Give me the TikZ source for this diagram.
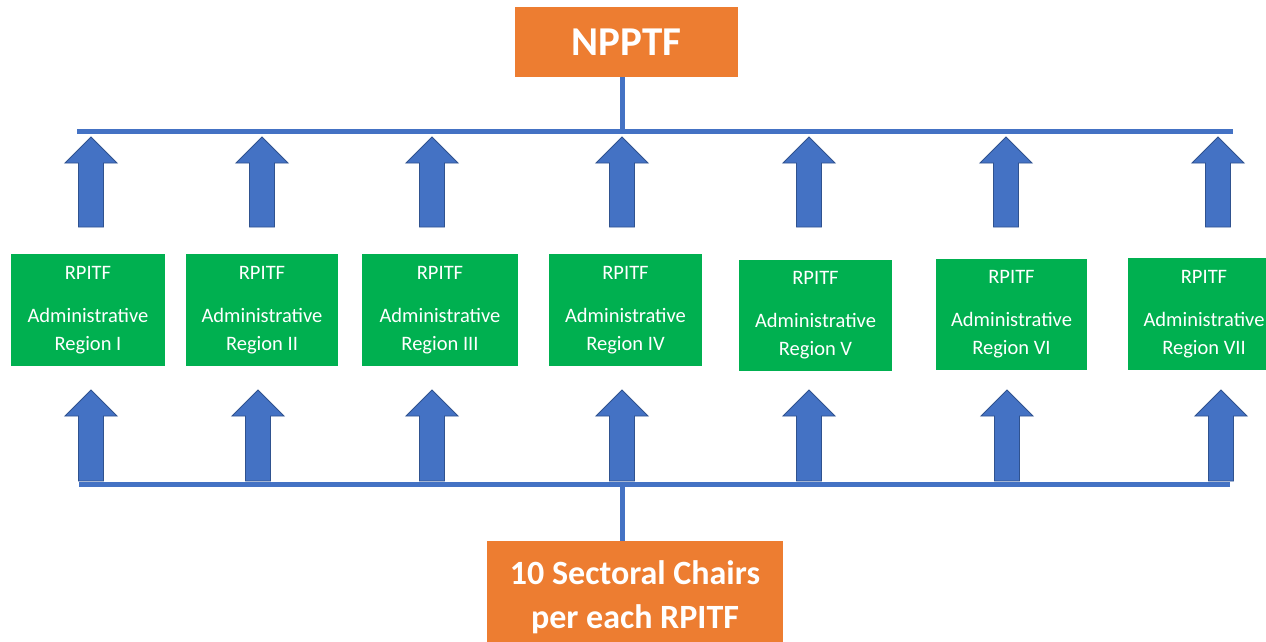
\documentclass[tikz,border=0pt]{standalone}
\usepackage{fontspec}
\setmainfont{Carlito}
\usepackage{tikz}

\definecolor{boxorange}{HTML}{ED7D31}
\definecolor{boxgreen}{HTML}{00B050}
\definecolor{busblue}{HTML}{4472C4}
\definecolor{edgeblue}{HTML}{2F528F}

\tikzset{
  headbox/.style={fill=boxorange, text=white, font=\bfseries, align=center, inner sep=0pt},
  regionbox/.style={fill=boxgreen, text=white, align=center, inner sep=0pt,
    font=\fontsize{20.5}{28}\selectfont},
  busline/.style={busblue, line width=5pt},
  blockarrow/.style={fill=busblue, draw=edgeblue, line width=0.9pt, line join=miter}
}

% block arrow: centre x, tip y, foot y
\newcommand{\uparr}[3]{%
  \filldraw[blockarrow] (#1-12.5,#3) -- (#1-12.5,#2+26) -- (#1-26,#2+26) -- (#1,#2)
    -- (#1+26,#2+26) -- (#1+12.5,#2+26) -- (#1+12.5,#3) -- cycle;}

\begin{document}
\begin{tikzpicture}[x=1pt, y=-1pt]
\useasboundingbox (0,0) rectangle (1266,642);
\begin{scope}

% top and bottom boxes
\node[headbox, minimum width=223, minimum height=70, font=\fontsize{41}{44}\bfseries] (npptf) at (626.5,42) {NPPTF};
\node[headbox, minimum width=296, minimum height=112, font=\fontsize{34}{44}\bfseries] (chairs) at (635,597) {10 Sectoral Chairs\\per each RPITF};

% bus lines
\coordinate (topL) at (77,131);
\coordinate (topR) at (1233,131);
\coordinate (topJ) at (622,131);
\coordinate (botL) at (79,484);
\coordinate (botR) at (1230,484);
\coordinate (botJ) at (622,484);

\draw[busline] (topJ |- npptf.south) -- (topJ);
\draw[busline] (topL) -- (topR);
\draw[busline] (botL) -- (botR);
\draw[busline] (botJ) -- (botJ |- chairs.north);

% regional boxes
\node[regionbox, minimum width=154, minimum height=112] (reg1) at (88,310) {RPITF\\[15pt]Administrative\\Region I};
\node[regionbox, minimum width=152, minimum height=112] (reg2) at (262,310) {RPITF\\[15pt]Administrative\\Region II};
\node[regionbox, minimum width=156, minimum height=112] (reg3) at (440,310) {RPITF\\[15pt]Administrative\\Region III};
\node[regionbox, minimum width=153, minimum height=112] (reg4) at (625.5,310) {RPITF\\[15pt]Administrative\\Region IV};
\node[regionbox, minimum width=153, minimum height=111] (reg5) at (815.5,315.5) {RPITF\\[15pt]Administrative\\Region V};
\node[regionbox, minimum width=151, minimum height=111] (reg6) at (1011.5,314.5) {RPITF\\[15pt]Administrative\\Region VI};
\node[regionbox, minimum width=152, minimum height=112] (reg7) at (1204,314) {RPITF\\[15pt]Administrative\\Region VII};

% arrows up to the NPPTF line
\foreach \xa in {91,262,432,622,809,1006,1218}
  \uparr{\xa}{137}{227};

% arrows up from the sectoral line
\foreach \xb in {91,258,432,622,809,1007,1221}
  \uparr{\xb}{390}{481};

\end{scope}
\end{tikzpicture}
\end{document}
